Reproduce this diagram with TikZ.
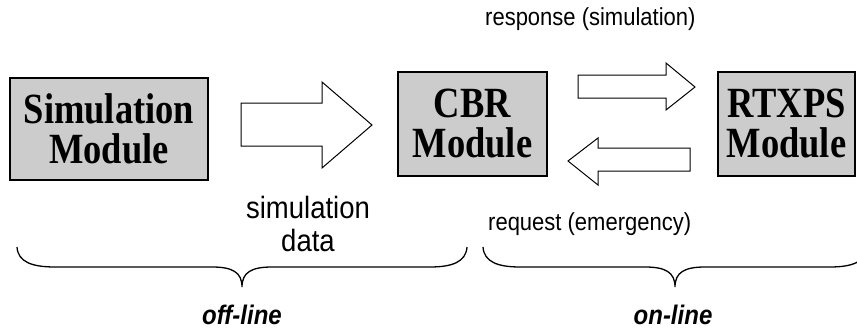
\documentclass[tikz,border=0pt]{standalone}
\usepackage{graphicx}
\usepackage{fontspec}
\setmainfont{Liberation Serif}
\newfontfamily\arialfont{Liberation Sans}
\newcommand{\tallbox}[1]{\scalebox{1}[1.18]{#1}}
\newcommand{\tallerbox}[1]{\scalebox{1}[1.12]{#1}}
\begin{document}
\begin{tikzpicture}[x=1pt,y=-1pt,
  modbox/.style={draw=black, line width=1.3pt, fill=black!20, inner sep=0pt, align=center,
    font=\bfseries\fontsize{36.5}{40}\selectfont},
  lbl/.style={font=\arialfont\fontsize{22}{30}\selectfont, align=center, inner sep=0pt},
  biglbl/.style={font=\arialfont\fontsize{27.5}{33}\selectfont, align=center, inner sep=0pt},
  sidelbl/.style={font=\arialfont\bfseries\itshape\fontsize{24}{24}\selectfont, inner sep=0pt},
  blockarrow/.style={draw=black, line width=1pt, fill=white, line join=miter},
  bracepath/.style={draw=black, line width=1.3pt}]
\useasboundingbox (0,0) rectangle (857,332);
% modules
\node[modbox, minimum width=198pt, minimum height=102pt] (sim) at (109,129) {\tallbox{Simulation}\\\tallbox{Module}};
\node[modbox, minimum width=149pt, minimum height=104pt] (cbr) at (472.5,124) {\tallbox{CBR}\\\tallbox{Module}};
\node[modbox, minimum width=137pt, minimum height=104pt] (rtx) at (786.5,124) {\tallbox{RTXPS}\\\tallbox{Module}};
% block arrows
\draw[blockarrow] (241,103) -- (322,103) -- (322,82) -- (372,125) -- (322,168) -- (322,146) -- (241,146) -- cycle;
\draw[blockarrow] (578,75) -- (666,75) -- (666,63) -- (695,87) -- (666,110) -- (666,98) -- (578,98) -- cycle;
\draw[blockarrow] (690,148) -- (598,148) -- (598,138) -- (568,161) -- (598,185) -- (598,171) -- (690,171) -- cycle;
% labels
\node[lbl, anchor=west] (resp) at (485,19) {\tallerbox{response (simulation)}};
\node[biglbl] (simdata) at (308,224) {\tallerbox{simulation}\\\tallerbox{data}};
\node[lbl, anchor=west] (req) at (488,224) {\tallerbox{request (emergency)}};
% braces
\draw[bracepath] (17,247) .. controls (18,262) and (32,267) .. (55,267) -- (212,267)
  .. controls (232,267) and (242,272) .. (242,287)
  .. controls (242,272) and (252,267) .. (272,267) -- (430,267)
  .. controls (452,267) and (466,262) .. (467,247);
\draw[bracepath] (483,247) .. controls (484,262) and (498,267) .. (520,267) -- (645,267)
  .. controls (665,267) and (675,272) .. (675,287)
  .. controls (675,272) and (685,267) .. (705,267) -- (830,267)
  .. controls (852,267) and (866,262) .. (867,247);
\node[sidelbl] (off) at (242,315) {\tallerbox{off-line}};
\node[sidelbl] (on) at (673,315) {\tallerbox{on-line}};
\end{tikzpicture}
\end{document}
